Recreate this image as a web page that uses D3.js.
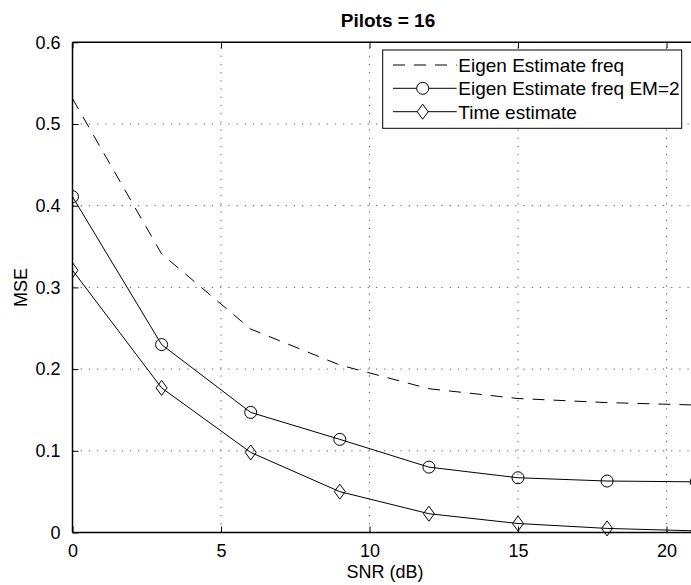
<!DOCTYPE html>
<html>
<head>
<meta charset="utf-8">
<script src="https://cdn.jsdelivr.net/npm/d3@7"></script>
<style>
  html, body { margin: 0; padding: 0; background: #fff; }
  svg { display: block; font-family: "Liberation Sans", Arial, Helvetica, sans-serif; }
</style>
</head>
<body>
<svg id="chart" width="691" height="585"></svg>
<script>
// ---- data ----
const snr = [0, 3, 6, 9, 12, 15, 18, 21];
const eigenFreq = [0.531, 0.341, 0.249, 0.205, 0.176, 0.164, 0.159, 0.156];
const eigenFreqEM2 = [0.411, 0.230, 0.147, 0.114, 0.080, 0.067, 0.063, 0.062];
const timeEstimate = [0.321, 0.177, 0.098, 0.050, 0.023, 0.011, 0.005, 0.002];
const xTicks = [0, 5, 10, 15, 20];
const yTicks = [0, 0.1, 0.2, 0.3, 0.4, 0.5, 0.6];
const seriesNames = ["Eigen Estimate freq", "Eigen Estimate freq EM=2", "Time estimate"];
const titleText = "Pilots = 16";
const xLabel = "SNR (dB)";
const yLabel = "MSE";

(function () {
// ---- layout ----
const svg = d3.select("#chart");
const mLeft = 72.5, mTop = 42.3;
const plotW = 623.7, plotH = 490.2;
const x = d3.scaleLinear().domain([0, 21]).range([mLeft, mLeft + plotW]);
const y = d3.scaleLinear().domain([0, 0.6]).range([mTop + plotH, mTop]);

// grid
const grid = svg.append("g").attr("stroke", "#333").attr("stroke-width", 1)
  .attr("stroke-dasharray", "1.2,7").attr("opacity", 0.8);
xTicks.filter(t => t > 0).forEach(t => {
  grid.append("line").attr("x1", x(t)).attr("x2", x(t)).attr("y1", y(0)).attr("y2", y(0.6));
});
yTicks.filter(t => t > 0 && t < 0.6).forEach(t => {
  grid.append("line").attr("x1", x(0)).attr("x2", x(21)).attr("y1", y(t)).attr("y2", y(t));
});

// clip
svg.append("clipPath").attr("id", "clip").append("rect")
  .attr("x", mLeft).attr("y", mTop - 10).attr("width", plotW + 20).attr("height", plotH + 20);

const line = d3.line().x((d, i) => x(snr[i])).y(d => y(d));
const plot = svg.append("g").attr("clip-path", "url(#clip)");

plot.append("path").datum(eigenFreq).attr("d", line).attr("fill", "none")
  .attr("stroke", "#000").attr("stroke-width", 1).attr("stroke-dasharray", "12,9");
plot.append("path").datum(eigenFreqEM2).attr("d", line).attr("fill", "none")
  .attr("stroke", "#000").attr("stroke-width", 1);
plot.append("path").datum(timeEstimate).attr("d", line).attr("fill", "none")
  .attr("stroke", "#000").attr("stroke-width", 1);

const diamond = (cx, cy) => `M${cx},${cy - 7.5}L${cx + 5.5},${cy}L${cx},${cy + 7.5}L${cx - 5.5},${cy}Z`;

plot.selectAll("circle.m").data(eigenFreqEM2).enter().append("circle")
  .attr("cx", (d, i) => x(snr[i])).attr("cy", d => y(d)).attr("r", 6)
  .attr("fill", "none").attr("stroke", "#000").attr("stroke-width", 1);
plot.selectAll("path.d").data(timeEstimate).enter().append("path")
  .attr("d", (d, i) => diamond(x(snr[i]), y(d)))
  .attr("fill", "none").attr("stroke", "#000").attr("stroke-width", 1);

// axes box (left, bottom, top)
const axisG = svg.append("g").attr("stroke", "#000").attr("stroke-width", 1.5);
axisG.append("line").attr("x1", x(0)).attr("x2", x(0)).attr("y1", y(0)).attr("y2", y(0.6));
axisG.append("line").attr("x1", x(0)).attr("x2", x(21)).attr("y1", y(0)).attr("y2", y(0));
axisG.append("line").attr("x1", x(0)).attr("x2", x(21)).attr("y1", y(0.6)).attr("y2", y(0.6));

// ticks via d3 axes (inward)
const xAxisB = d3.axisBottom(x).tickValues(xTicks).tickSize(-6).tickFormat(d3.format("d")).tickPadding(11.5);
const gxb = svg.append("g").attr("transform", `translate(0,${y(0)})`).call(xAxisB);
const xAxisT = d3.axisTop(x).tickValues(xTicks).tickSize(-6).tickFormat("");
const gxt = svg.append("g").attr("transform", `translate(0,${y(0.6)})`).call(xAxisT);
const yAxisL = d3.axisLeft(y).tickValues(yTicks).tickSize(-6).tickFormat(d => d === 0 ? "0" : d3.format(".1f")(d)).tickPadding(12);
const gyl = svg.append("g").attr("transform", `translate(${x(0)},0)`).call(yAxisL);
[gxb, gxt, gyl].forEach(g => {
  g.select(".domain").remove();
  g.selectAll("line").attr("stroke", "#000").attr("stroke-width", 1);
  g.selectAll("text").attr("fill", "#000").attr("font-size", 18)
    .attr("font-family", "'Liberation Sans', Arial, Helvetica, sans-serif");
});
gxb.selectAll("text").attr("dy", "0.71em");

// labels
svg.append("text").attr("x", 388).attr("y", 26.5).attr("text-anchor", "middle")
  .attr("font-size", 19).attr("font-weight", "bold").text(titleText);
svg.append("text").attr("x", 385).attr("y", 577.5).attr("text-anchor", "middle")
  .attr("font-size", 18).text(xLabel);
svg.append("text").attr("transform", `translate(26.5,${mTop + plotH / 2}) rotate(-90)`)
  .attr("text-anchor", "middle").attr("font-size", 18).text(yLabel);

// legend
const lg = svg.append("g");
lg.append("rect").attr("x", 382.7).attr("y", 50).attr("width", 299).attr("height", 78.3)
  .attr("fill", "#fff").attr("stroke", "#000").attr("stroke-width", 1);
const rows = [65, 88.3, 111.7];
const lx1 = 393, lx2 = 456.7, mx = 422.7;
seriesNames.forEach((name, i) => {
  const ry = rows[i];
  const l = lg.append("line").attr("x1", lx1).attr("x2", lx2).attr("y1", ry).attr("y2", ry)
    .attr("stroke", "#000").attr("stroke-width", 1);
  if (i === 0) l.attr("stroke-dasharray", "12,9");
  if (i === 1) lg.append("circle").attr("cx", mx).attr("cy", ry).attr("r", 6)
    .attr("fill", "#fff").attr("stroke", "#000");
  if (i === 2) lg.append("path").attr("d", diamond(mx, ry)).attr("fill", "#fff").attr("stroke", "#000");
  lg.append("text").attr("x", 458.3).attr("y", ry + 6.8).attr("font-size", 19).text(name);
});
})();
</script>
</body>
</html>
